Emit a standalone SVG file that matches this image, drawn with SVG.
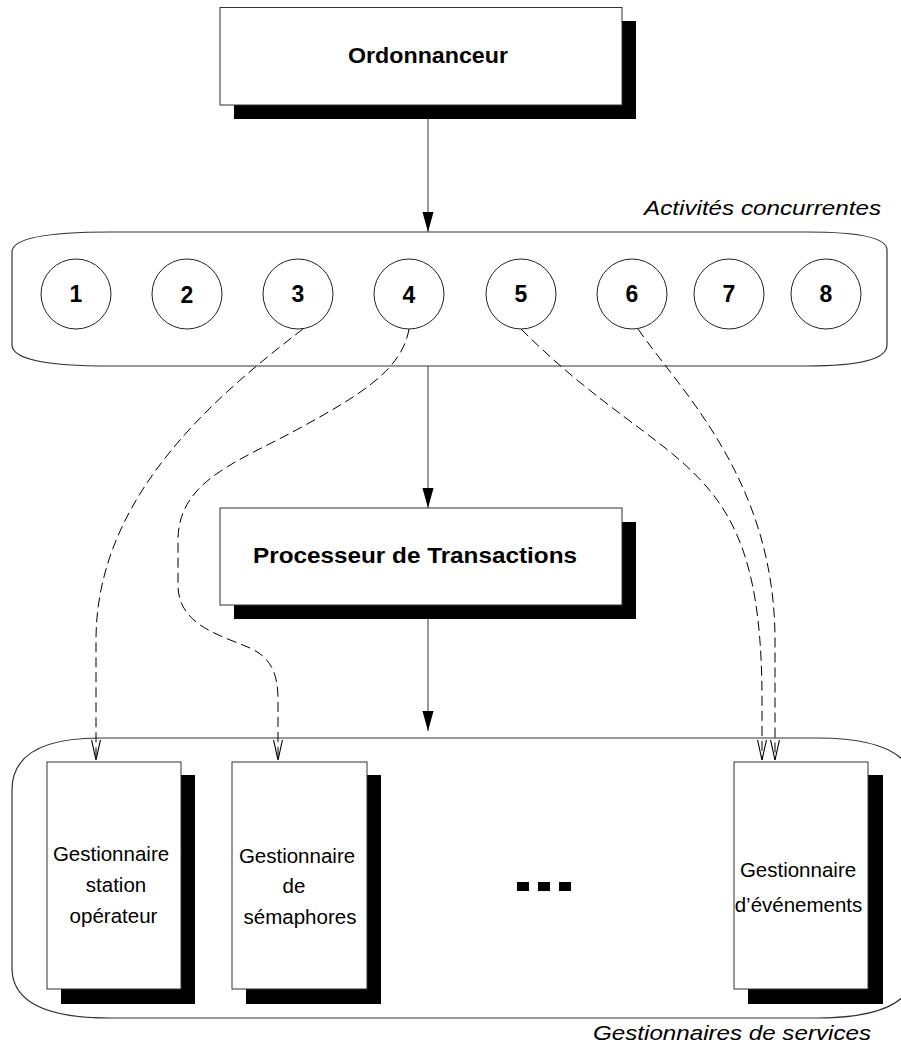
<svg xmlns="http://www.w3.org/2000/svg" width="901" height="1045" viewBox="0 0 901 1045">
  <style>
    .box { fill: #fff; stroke: #333; stroke-width: 1; }
    .shadow { fill: #000; }
    .group { fill: none; stroke: #333; stroke-width: 1.2; }
    .act { fill: #fff; stroke: #222; stroke-width: 1; }
    .title { font-family: "Liberation Sans", Arial, sans-serif; font-weight: bold; font-size: 22px; fill: #000; text-anchor: middle; }
    .num { font-family: "Liberation Sans", Arial, sans-serif; font-weight: bold; font-size: 23px; fill: #000; text-anchor: middle; }
    .lbl { font-family: "Liberation Sans", Arial, sans-serif; font-size: 20.5px; fill: #000; text-anchor: middle; }
    .cap { font-family: "Liberation Sans", Arial, sans-serif; font-style: italic; font-size: 21px; fill: #000; text-anchor: end; }
    .flow { fill: none; stroke: #555; stroke-width: 1.2; marker-end: url(#solid); }
    .use { fill: none; stroke: #000; stroke-width: 1; stroke-dasharray: 10 5; marker-end: url(#vee); }
  </style>
  <defs>
    <marker id="solid" markerUnits="userSpaceOnUse" markerWidth="20" markerHeight="12" viewBox="0 0 18 10" refX="18" refY="5" orient="auto">
      <path d="M0,0 L18,5 L0,10 Z" fill="#000"/>
    </marker>
    <marker id="vee" markerUnits="userSpaceOnUse" markerWidth="20" markerHeight="12" viewBox="0 0 18 10" refX="18" refY="5" orient="auto">
      <path d="M0,1 L18,5 L0,9" fill="none" stroke="#000" stroke-width="1"/>
    </marker>
  </defs>

  <rect width="901" height="1045" fill="#fff"/>

  <!-- scheduler -->
  <g id="ordonnanceur">
    <rect class="shadow" x="234" y="21" width="402" height="98"/>
    <rect class="box" x="220" y="7.5" width="402" height="97.5"/>
    <text class="title" x="428" y="63" textLength="160" lengthAdjust="spacingAndGlyphs">Ordonnanceur</text>
  </g>

  <!-- concurrent activities -->
  <g id="activites">
    <path class="group" d="M110,232 L807,232 Q887,232 887,250 L887,345 Q887,366 807,366 L110,366 Q12,366 12,345 L12,252 Q12,232 110,232 Z"/>
    <text class="cap" x="881" y="215" textLength="237" lengthAdjust="spacingAndGlyphs">Activités concurrentes</text>
  </g>
  <g id="act1"><circle class="act" cx="76" cy="294" r="35"/><text class="num" x="76" y="302">1</text></g>
  <g id="act2"><circle class="act" cx="187" cy="294" r="35"/><text class="num" x="187" y="303">2</text></g>
  <g id="act3"><circle class="act" cx="298" cy="294" r="35"/><text class="num" x="298" y="302">3</text></g>
  <g id="act4"><circle class="act" cx="409" cy="294" r="35"/><text class="num" x="409" y="303">4</text></g>
  <g id="act5"><circle class="act" cx="521" cy="294" r="35"/><text class="num" x="521" y="302">5</text></g>
  <g id="act6"><circle class="act" cx="632" cy="294" r="35"/><text class="num" x="632" y="302">6</text></g>
  <g id="act7"><circle class="act" cx="729" cy="294" r="35"/><text class="num" x="729" y="302">7</text></g>
  <g id="act8"><circle class="act" cx="826" cy="294" r="35"/><text class="num" x="826" y="302">8</text></g>

  <!-- transaction processor -->
  <g id="processeur">
    <rect class="shadow" x="234" y="522" width="402" height="97"/>
    <rect class="box" x="220" y="508" width="402" height="97"/>
    <text class="title" x="415" y="563" textLength="324" lengthAdjust="spacingAndGlyphs">Processeur de Transactions</text>
  </g>

  <!-- service managers -->
  <g id="gestionnaires">
    <path class="group" d="M100,738 L817,738 Q915,738 915,790 L915,968 Q915,1018 817,1018 L110,1018 Q12,1018 12,968 L12,790 Q12,738 100,738 Z"/>
    <text class="cap" x="871" y="1040" textLength="278" lengthAdjust="spacingAndGlyphs">Gestionnaires de services</text>
    <rect x="517" y="882" width="12" height="9" fill="#000"/>
    <rect x="538" y="882" width="12" height="9" fill="#000"/>
    <rect x="559" y="882" width="12" height="9" fill="#000"/>
  </g>
  <g id="gest-station">
    <rect class="shadow" x="61" y="775" width="134" height="229"/>
    <rect class="box" x="47" y="762" width="134" height="227"/>
    <text class="lbl" x="111" y="861">Gestionnaire</text>
    <text class="lbl" x="116" y="892">station</text>
    <text class="lbl" x="113.5" y="923">opérateur</text>
  </g>
  <g id="gest-semaphores">
    <rect class="shadow" x="246" y="775" width="135" height="229"/>
    <rect class="box" x="232" y="762" width="135" height="227"/>
    <text class="lbl" x="297" y="863">Gestionnaire</text>
    <text class="lbl" x="294" y="893">de</text>
    <text class="lbl" x="300" y="924">sémaphores</text>
  </g>
  <g id="gest-evenements">
    <rect class="shadow" x="748" y="775" width="135" height="229"/>
    <rect class="box" x="734" y="762" width="134" height="227"/>
    <text class="lbl" x="798" y="877">Gestionnaire</text>
    <text class="lbl" x="798.5" y="912">d’événements</text>
  </g>

  <!-- connectors -->
  <g id="connecteurs">
    <path class="flow" d="M428,119 L428,232"/>
    <path class="flow" d="M428,366 L428,508"/>
    <path class="flow" d="M428,619 L428,731"/>
    <path class="use" d="M303,329 C210,400 96,500 96,640 L96,760"/>
    <path class="use" d="M409,329 C402,370 360,395 300,428 C240,461 178,480 178,540 L178,585 C178,625 220,635 250,648 C272,658 278,675 278,700 L278,760"/>
    <path class="use" d="M521,329 C671,479 762,450 762,700 L762,760"/>
    <path class="use" d="M638,329 C680,390 775,480 775,640 L775,760"/>
  </g>
</svg>
